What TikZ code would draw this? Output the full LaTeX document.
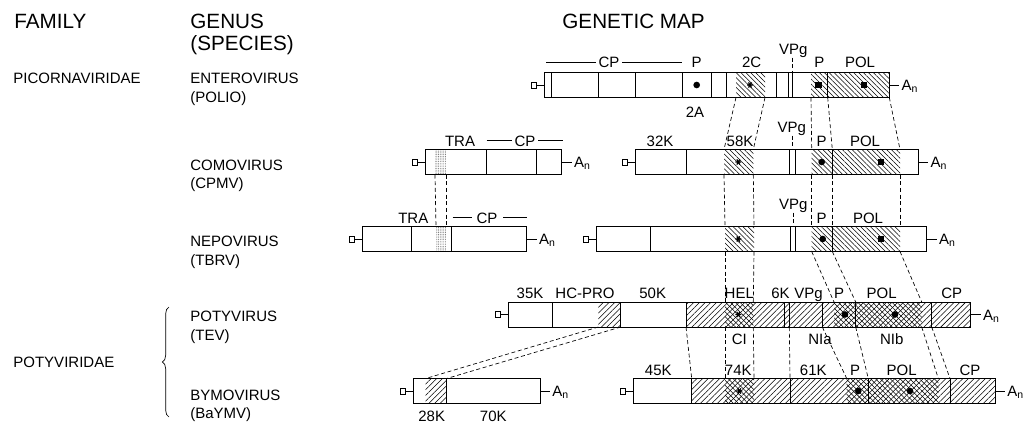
\documentclass[tikz,border=0pt]{standalone}
\usepackage{fontspec}
\setmainfont{Liberation Sans}
\usetikzlibrary{patterns.meta,decorations.pathreplacing}
\newcommand\capsq[2]{% left x of box, centre y
  \draw (#1-13,#2-3) rectangle (#1-8,#2+3);
  \draw (#1-8,#2) -- (#1,#2);}
\newcommand\polyA[3]{% name, right x of box, centre y
  \draw (#2,#3) -- (#2+10,#3);
  \node[lab,anchor=base west] (#1) at (#2+12,#3+5.5) {A\textsubscript{n}};}
\newcommand\gdot[2]{\fill (#1,#2) circle[radius=2.5pt];}
\newcommand\gsq[2]{\fill (#1-3.3,#2-3.3) rectangle (#1+3.3,#2+3.3);}
\newcommand\gast[2]{\draw[line width=0.9pt] (#1-3,#2) -- (#1+3,#2) (#1-1.5,#2-2.6) -- (#1+1.5,#2+2.6) (#1-1.5,#2+2.6) -- (#1+1.5,#2-2.6);}
\begin{document}
\begin{tikzpicture}[x=0.75pt,y=-0.75pt,line width=0.6pt,
  lab/.style={font=\fontsize{11.25}{13}\selectfont,inner sep=0pt,anchor=base},
  hdr/.style={font=\fontsize{15.5}{17}\selectfont,inner sep=0pt,anchor=base west},
  gen/.style={font=\fontsize{11.25}{13}\selectfont,inner sep=0pt,anchor=base west},
  hb/.style={pattern={Lines[angle=-45,distance=2.6pt,line width=0.4pt]}},
  hf/.style={pattern={Lines[angle=45,distance=3pt,line width=0.4pt]}},
  conn/.style={dash pattern=on 3pt off 2pt,line width=0.5pt},
  stip/.style={pattern={Dots[distance=1.3pt,radius=0.35pt]},pattern color=black!60}]
\useasboundingbox (0,0) rectangle (1024,425);

% ---------- headers ----------
\node[hdr] (hfam) at (14,28) {FAMILY};
\node[hdr] (hgen) at (190,28) {GENUS};
\node[hdr] (hspe) at (190,50) {(SPECIES)};
\node[hdr] (hmap) at (562,28) {GENETIC MAP};

% ---------- left column ----------
\node[gen] (fpic) at (13,83) {PICORNAVIRIDAE};
\node[gen] (fpot) at (13,367) {POTYVIRIDAE};
\node[gen] (g1a) at (190,83) {ENTEROVIRUS};
\node[gen] (g1b) at (190,102) {(POLIO)};
\node[gen] (g2a) at (190,170) {COMOVIRUS};
\node[gen] (g2b) at (190,188.5) {(CPMV)};
\node[gen] (g3a) at (190,246.5) {NEPOVIRUS};
\node[gen] (g3b) at (190,265) {(TBRV)};
\node[gen] (g4a) at (190,321.5) {POTYVIRUS};
\node[gen] (g4b) at (190,340) {(TEV)};
\node[gen] (g5a) at (190,400) {BYMOVIRUS};
\node[gen] (g5b) at (190,418) {(BaYMV)};
\draw[line width=0.5pt,decorate,decoration={brace,amplitude=5pt}] (169,417) -- (169,307);

% ---------- row 1: polio ----------
\fill[hb] (736,72.5) rectangle (765,97.5);
\fill[hb] (811,72.5) rectangle (889.3,97.5);
\capsq{544.3}{85}
\draw (544.3,72.5) rectangle (889.3,97.5);
\foreach \x in {551.7,598.3,635,682.7,711.7,726.7,776,788.3,792.7,827.7} \draw (\x,72.5) -- (\x,97.5);
\gdot{696.7}{85} \gast{750}{85} \gsq{818.3}{85} \gsq{864}{85}
\draw (546,62) -- (596,62);
\node[lab] (r1cp) at (609,67.5) {CP};
\draw (622,62) -- (682,62);
\node[lab] (r1p) at (696.7,67.5) {P};
\node[lab] (r1a) at (695,117) {2A};
\node[lab] (r1c) at (751.7,67.5) {2C};
\node[lab] (r1v) at (793.3,54) {VPg};
\draw[conn] (792.7,57.5) -- (792.7,72.5);
\node[lab] (r1p2) at (819.3,67.5) {P};
\node[lab] (r1pol) at (860,67.5) {POL};
\polyA{r1an}{889.3}{85}

% ---------- row 2: CPMV ----------
\fill[stip] (435,149.5) rectangle (446,174.5);
\capsq{425.7}{162}
\draw (425.7,149.5) rectangle (561.7,174.5);
\foreach \x in {486.7,536.7} \draw (\x,149.5) -- (\x,174.5);
\node[lab] (r2tra) at (460,146) {TRA};
\draw (486.7,140.6) -- (511.7,140.6);
\node[lab] (r2cp) at (525,146) {CP};
\draw (538,140.6) -- (562.7,140.6);
\polyA{r2an}{561.7}{162}
\fill[hb] (724,149.5) rectangle (753.3,174.5);
\fill[hb] (811.7,149.5) rectangle (900,174.5);
\capsq{635}{162}
\draw (635,149.5) rectangle (918.3,174.5);
\foreach \x in {686,789.3,795,832.3} \draw (\x,149.5) -- (\x,174.5);
\gast{738.3}{162} \gdot{821.7}{162} \gsq{881}{162}
\node[lab] (r2k) at (660,146) {32K};
\node[lab] (r2h) at (740,146) {58K};
\node[lab] (r2v) at (791.7,132) {VPg};
\draw[conn] (792.7,135.5) -- (792.7,149.5);
\node[lab] (r2p) at (821.7,146) {P};
\node[lab] (r2pol) at (865,146) {POL};
\polyA{r2an2}{918.3}{162}

% ---------- row 3: TBRV ----------
\fill[stip] (436,226.5) rectangle (446,251.5);
\capsq{362.7}{239}
\draw (362.7,226.5) rectangle (526.7,251.5);
\foreach \x in {411.7,451.7} \draw (\x,226.5) -- (\x,251.5);
\node[lab] (r3tra) at (413.3,223) {TRA};
\draw (452.7,217.6) -- (471.7,217.6);
\node[lab] (r3cp) at (487,223) {CP};
\draw (503,217.6) -- (526.7,217.6);
\polyA{r3an}{526.7}{239}
\fill[hb] (725,226.5) rectangle (754,251.5);
\fill[hb] (811.7,226.5) rectangle (900,251.5);
\capsq{596.7}{239}
\draw (596.7,226.5) rectangle (926.7,251.5);
\foreach \x in {650,790,795,832.3} \draw (\x,226.5) -- (\x,251.5);
\gast{738.3}{239} \gdot{822.7}{239} \gsq{881}{239}
\node[lab] (r3v) at (793.3,209) {VPg};
\draw[conn] (793,212.5) -- (793,226.5);
\node[lab] (r3p) at (821.7,223) {P};
\node[lab] (r3pol) at (868,223) {POL};
\polyA{r3an2}{926.7}{239}

% ---------- row 4: TEV ----------
\fill[hf] (598.3,302) rectangle (620.7,327);
\fill[hf] (686,302) rectangle (970.7,327);
\fill[hb] (725,302) rectangle (753.3,327);
\fill[hb] (834,302) rectangle (921.7,327);
\capsq{508.3}{314.5}
\draw (508.3,302) rectangle (970.7,327);
\foreach \x in {552.7,620.7,686,784,789.3,822.3,855.7,931.7} \draw (\x,302) -- (\x,327);
\gast{738.3}{314.5} \gdot{845}{314.5} \gdot{895}{314.5}
\node[lab] (r4a) at (530,298.5) {35K};
\node[lab] (r4b) at (585,298.5) {HC-PRO};
\node[lab] (r4c) at (652.7,298.5) {50K};
\node[lab] (r4d) at (739.3,298.5) {HEL};
\node[lab] (r4e) at (780.5,298.5) {6K};
\node[lab] (r4f) at (808.5,298.5) {VPg};
\node[lab] (r4g) at (839,298.5) {P};
\node[lab] (r4h) at (881.7,298.5) {POL};
\node[lab] (r4i) at (951.7,298.5) {CP};
\node[lab] (r4j) at (739.3,344.5) {CI};
\node[lab] (r4k) at (820,344.5) {NIa};
\node[lab] (r4l) at (891.7,344.5) {NIb};
\polyA{r4an}{970.7}{314.5}

% ---------- row 5: BaYMV ----------
\fill[hf] (425.7,378.5) rectangle (446.7,403.5);
\capsq{413.3}{391}
\draw (413.3,378.5) rectangle (540,403.5);
\draw (446.7,378.5) -- (446.7,403.5);
\node[lab] (r5a) at (431.7,421.5) {28K};
\node[lab] (r5b) at (493.3,421.5) {70K};
\polyA{r5an}{540}{391}
\fill[hf] (691.7,378.5) rectangle (995,403.5);
\fill[hb] (725,378.5) rectangle (754,403.5);
\fill[hb] (846.7,378.5) rectangle (938.3,403.5);
\capsq{633.3}{391}
\draw (633.3,378.5) rectangle (995,403.5);
\foreach \x in {691.7,790,868.3,950} \draw (\x,378.5) -- (\x,403.5);
\gast{739.3}{391} \gdot{858.3}{391} \gdot{910}{391}
\node[lab] (r5c) at (658.3,375) {45K};
\node[lab] (r5d) at (738.3,375) {74K};
\node[lab] (r5e) at (813.3,375) {61K};
\node[lab] (r5f) at (855,375) {P};
\node[lab] (r5g) at (901.7,375) {POL};
\node[lab] (r5h) at (970,375) {CP};
\polyA{r5an2}{995}{391}

% ---------- dashed correspondences ----------
\begin{scope}[conn]
\draw (736,97.5) -- (724,149.5);
\draw (765,97.5) -- (753.3,149.5);
\draw (811,97.5) -- (811.7,149.5);
\draw (827.7,97.5) -- (832.3,149.5);
\draw (889.3,97.5) -- (900,149.5);
\draw (435,174.5) -- (436,226.5);
\draw (446,174.5) -- (446,226.5);
\draw (724,174.5) -- (725,226.5);
\draw (753.3,174.5) -- (754,226.5);
\draw (811.7,174.5) -- (811.7,226.5);
\draw (832.3,174.5) -- (832.3,226.5);
\draw (900,174.5) -- (900,226.5);
\draw (725,251.5) -- (725,302);
\draw (754,251.5) -- (753.3,302);
\draw (811.7,251.5) -- (834,302);
\draw (832.3,251.5) -- (855.7,302);
\draw (900,251.5) -- (921.7,302);
\draw (598.3,327) -- (425.7,378.5);
\draw (620.7,327) -- (446.7,378.5);
\draw (686,327) -- (691.7,378.5);
\draw (725,327) -- (725,378.5);
\draw (753.3,327) -- (754,378.5);
\draw (789.3,327) -- (790,378.5);
\draw (822.3,327) -- (846.7,378.5);
\draw (855.7,327) -- (868.3,378.5);
\draw (921.7,327) -- (938.3,378.5);
\draw (931.7,327) -- (950,378.5);
\end{scope}
\end{tikzpicture}
\end{document}
